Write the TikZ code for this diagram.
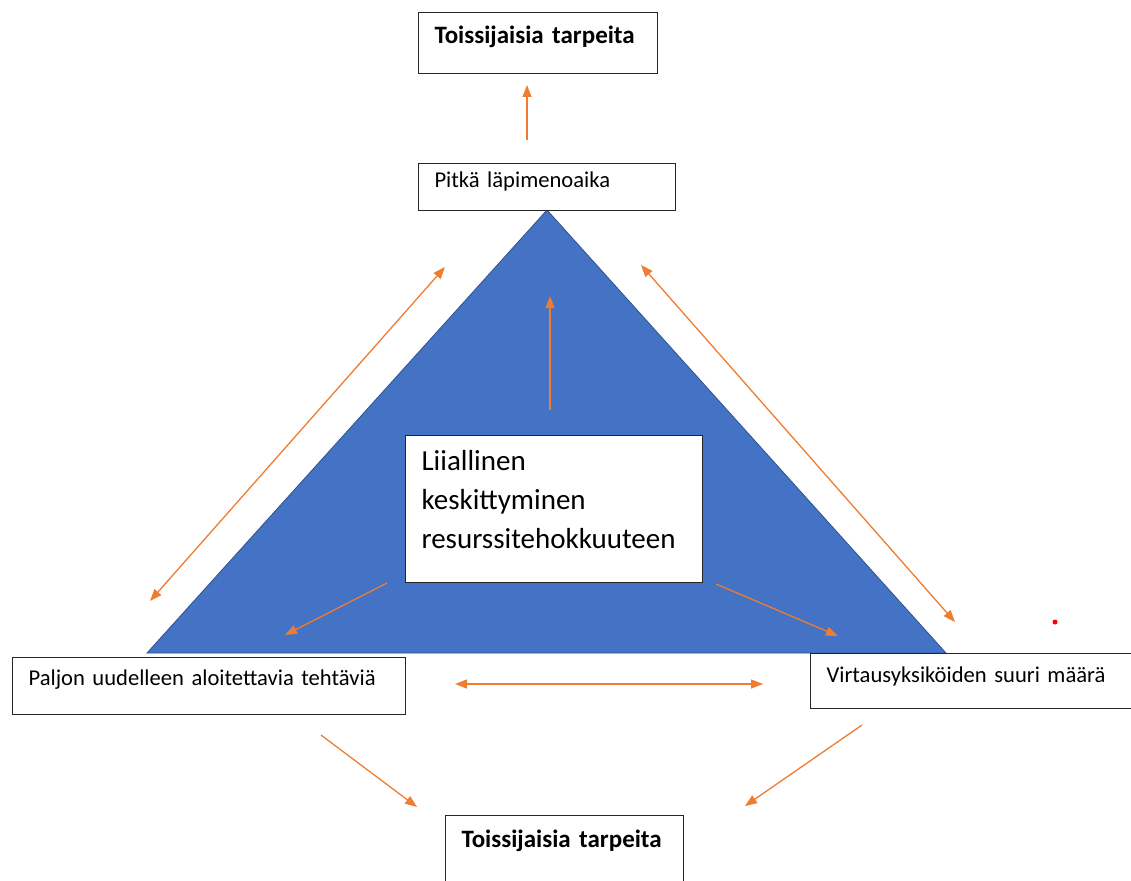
\documentclass[tikz,border=0pt]{standalone}
\usepackage{fontspec}
\setmainfont{Carlito}
\usetikzlibrary{arrows.meta,positioning}
\definecolor{TriBlue}{HTML}{4472C4}
\definecolor{TriEdge}{HTML}{2F528F}
\definecolor{FlowOrange}{HTML}{ED7D31}
\tikzset{>={Triangle[length=12pt,width=9pt]},box/.style={draw=black!85,line width=1.1pt,
 fill=white,anchor=north west,align=left,inner xsep=16pt,font=\fontsize{22.6}{26}\selectfont},
 title/.style={font=\fontsize{25}{29}\selectfont\bfseries},flow/.style={draw=FlowOrange,line width=1.3pt}}
\begin{document}
\begin{tikzpicture}[x=1pt,y=-1pt]
\useasboundingbox (0,0) rectangle (1131,880);
\coordinate (apex) at (547,210);\coordinate (baseL) at (147,653);\coordinate (baseR) at (946,653);
\filldraw[fill=TriBlue,draw=TriEdge,line width=.8pt] (apex)--(baseL)--(baseR)--cycle;
\node[box,title,text width=207pt,minimum height=61pt,text height=17pt,text depth=16pt] (need1) at (418,12) {Toissijaisia tarpeita};
\node[box,text width=225pt,minimum height=47pt,text height=16pt,text depth=15pt] (lead) at (418,163) {Pitkä läpimenoaika};
\node[box,font=\fontsize{29}{39}\selectfont,text width=265pt,minimum height=147pt,text height=21pt,text depth=98pt] (focus) at (405,435)
 {Liiallinen\\keskittyminen\\resurssitehokkuuteen};
\node[box,text width=361pt,minimum height=57pt,text height=16pt,text depth=17pt] (restart) at (12,657) {Paljon uudelleen aloitettavia tehtäviä};
\node[box,text width=308pt,minimum height=55pt,text height=16pt,text depth=13pt] (units) at (810,653) {Virtausyksiköiden suuri määrä};
\node[box,title,text width=206pt,minimum height=80pt,text height=17pt,text depth=33pt] (need2) at (445,815) {Toissijaisia tarpeita};
\coordinate (t1) at (527,140);\coordinate (t2) at (527,85);
\coordinate (c1) at (550,410);\coordinate (c2) at (550,296);
\coordinate (l1) at (445,267);\coordinate (l2) at (150,601);
\coordinate (r1) at (641,265);\coordinate (r2) at (955,622);
\coordinate (fl1) at (387,583);\coordinate (fl2) at (285,635);
\coordinate (fr1) at (716,584);\coordinate (fr2) at (838,636);
\coordinate (h1) at (455,684);\coordinate (h2) at (763,684);
\coordinate (bl1) at (321,735);\coordinate (bl2) at (417,807);
\coordinate (br1) at (862,725);\coordinate (br2) at (745,806);
\draw[flow,->] (t1)--(t2);\draw[flow,->] (c1)--(c2);
\draw[flow,<->] (l1)--(l2);\draw[flow,<->] (r1)--(r2);
\draw[flow,->] (fl1)--(fl2);\draw[flow,->] (fr1)--(fr2);
\draw[flow,<->] (h1)--(h2);
\draw[flow,->] (bl1)--(bl2);\draw[flow,->] (br1)--(br2);
\fill[red] (1055,622) circle (2.5pt);
\end{tikzpicture}
\end{document}
